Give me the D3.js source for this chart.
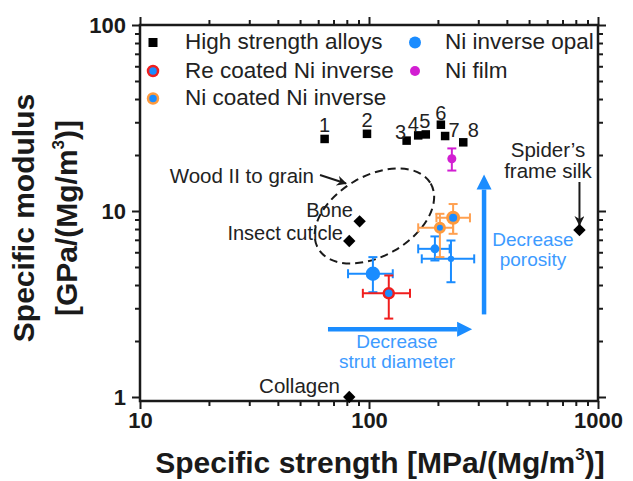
<!DOCTYPE html>
<html>
<head>
<meta charset="utf-8">
<script src="https://cdn.jsdelivr.net/npm/d3@7"></script>
<style>
  html, body { margin: 0; padding: 0; background: #fff; }
  text { font-family: "Liberation Sans", Arial, Helvetica, sans-serif; }
</style>
</head>
<body>
<svg id="chart" width="633" height="481"></svg>
<script>
// ---------------- data ----------------
const xTickValues = [10, 100, 1000];
const yTickValues = [1, 10, 100];
const xTickLabels = ["10", "100", "1000"];
const yTickLabels = ["1", "10", "100"];

const alloyLabels   = ["1", "2", "3", "4", "5", "6", "7", "8"];
const alloyStrength = [64, 98, 146, 164, 177, 206, 215, 258];
const alloyModulus  = [24.4, 26.0, 23.9, 25.5, 25.8, 29.1, 25.3, 23.4];

const bioNames    = ["Bone", "Insect cuticle", "Collagen", "Spider's frame silk"];
const bioStrength = [91, 82, 82, 830];
const bioModulus  = [8.8, 6.9, 1.0, 7.9];

const opalStrength = [104, 194, 228];
const opalModulus  = [4.6, 6.26, 5.53];
const opalXLo = [81, 164, 170], opalXHi = [127, 225, 288];
const opalYLo = [3.66, 5.42, 4.14], opalYHi = [5.65, 7.30, 6.94];

const reStrength = [122];
const reModulus  = [3.61];
const reXLo = [94], reXHi = [151];
const reYLo = [2.64], reYHi = [4.50];

const niCoatStrength = [233, 204];
const niCoatModulus  = [9.19, 8.12];
const niCoatXLo = [197, 164], niCoatXHi = [276, 233];
const niCoatYLo = [7.54, 5.65], niCoatYHi = [10.9, 9.66];

const filmStrength = [230];
const filmModulus  = [19.1];
const filmYLo = [16.5], filmYHi = [21.7];

const legendLabels = ["High strength alloys", "Re coated Ni inverse", "Ni coated Ni inverse", "Ni inverse opal", "Ni film"];

// ---------------- layout / style ----------------
const pLeft = 140, pRight = 598, pTop = 25, pBottom = 401;
const BLUE = "#1a8cff", RED = "#f01e1e", ORANGE = "#ff9a3c", MAG = "#d21ed2", INK = "#1a1a1a";
const TEXTBLUE = "#3d9bff";
const FONT = '"Liberation Sans", Arial, Helvetica, sans-serif';

const svg = d3.select("#chart");

const x = d3.scaleLog().domain([10, 1000]).range([pLeft, pRight]);
const y = d3.scaleLog().domain([0.9517, 100]).range([pBottom, pTop]);

function minors(lo, hi) {
  const out = [];
  for (let d = 0.1; d < 1000; d *= 10)
    for (let k = 2; k <= 9; k++) { const v = +(k * d).toPrecision(6); if (v > lo && v < hi) out.push(v); }
  return out;
}
const xMinor = minors(10, 1000);
const yMinor = minors(0.9517, 100);

// ---------------- axes ----------------
function drawAxis(gen, transform, values, size, labels) {
  const g = svg.append("g").attr("transform", transform)
    .call(gen.tickValues(values).tickSize(size).tickSizeOuter(0)
      .tickFormat(labels ? (d, i) => labels[i] : () => ""));
  g.select(".domain").remove();
  g.selectAll(".tick line").attr("stroke", INK).attr("stroke-width", 2);
  return g;
}
const gb = drawAxis(d3.axisBottom(x), `translate(0,${pBottom})`, xTickValues, 8, xTickLabels);
gb.selectAll(".tick text").attr("font-size", 22).attr("font-weight", "bold").attr("fill", INK)
  .attr("font-family", FONT).attr("dy", "0").attr("y", 27);
drawAxis(d3.axisBottom(x), `translate(0,${pBottom})`, xMinor, 5);
drawAxis(d3.axisTop(x), `translate(0,${pTop})`, xTickValues, 8);
drawAxis(d3.axisTop(x), `translate(0,${pTop})`, xMinor, 5);
const gl = drawAxis(d3.axisLeft(y), `translate(${pLeft},0)`, yTickValues, 8, yTickLabels);
gl.selectAll(".tick text").attr("font-size", 22).attr("font-weight", "bold").attr("fill", INK)
  .attr("font-family", FONT).attr("x", -14).attr("dy", "0.36em");
drawAxis(d3.axisLeft(y), `translate(${pLeft},0)`, yMinor, 5);
drawAxis(d3.axisRight(y), `translate(${pRight},0)`, yTickValues, 8);
drawAxis(d3.axisRight(y), `translate(${pRight},0)`, yMinor, 5);

svg.append("rect").attr("x", pLeft).attr("y", pTop).attr("width", pRight - pLeft).attr("height", pBottom - pTop)
  .attr("fill", "none").attr("stroke", INK).attr("stroke-width", 2.5);

// axis titles
const xt = svg.append("text").attr("x", 380).attr("y", 473).attr("text-anchor", "middle")
  .attr("font-size", 30).attr("font-weight", "bold").attr("fill", INK);
xt.append("tspan").text("Specific strength [MPa/(Mg/m");
xt.append("tspan").text("3").attr("font-size", 17).attr("dy", -13);
xt.append("tspan").text(")]").attr("dy", 13);

const yt = svg.append("g").attr("transform", "translate(34,218) rotate(-90)");
yt.append("text").attr("text-anchor", "middle").attr("font-size", 30).attr("font-weight", "bold")
  .attr("fill", INK).text("Specific modulus");
const yt2 = yt.append("text").attr("y", 43).attr("text-anchor", "middle").attr("font-size", 30)
  .attr("font-weight", "bold").attr("fill", INK);
yt2.append("tspan").text("[GPa/(Mg/m");
yt2.append("tspan").text("3").attr("font-size", 17).attr("dy", -13);
yt2.append("tspan").text(")]").attr("dy", 13);

// ---------------- defs ----------------
const defs = svg.append("defs");
defs.append("marker").attr("id", "ah-black").attr("viewBox", "0 0 10 10").attr("refX", 9).attr("refY", 5)
  .attr("markerWidth", 5).attr("markerHeight", 5).attr("markerUnits", "strokeWidth").attr("orient", "auto")
  .append("path").attr("d", "M0,0 L10,5 L0,10 L3,5 Z").attr("fill", INK);

// ---------------- annotations ----------------
const ell = { cx: 105.6, cy: 9.4 };
svg.append("ellipse").attr("cx", 0).attr("cy", 0).attr("rx", 65).attr("ry", 40)
  .attr("transform", `translate(${x(ell.cx)},${y(ell.cy)}) rotate(-30)`)
  .attr("fill", "none").attr("stroke", INK).attr("stroke-width", 2).attr("stroke-dasharray", "8,5");

function annText(t, px, py, anchor, size, color) {
  return svg.append("text").attr("x", px).attr("y", py).attr("text-anchor", anchor)
    .attr("font-size", size).attr("fill", color || "#222").text(t);
}
annText("Wood II to grain", 314, 183, "end", 20.5);
svg.append("line").attr("x1", 320).attr("y1", 175).attr("x2", 346).attr("y2", 183.5)
  .attr("stroke", INK).attr("stroke-width", 2).attr("marker-end", "url(#ah-black)");

annText("Bone", 353, 217, "end", 20);
annText("Insect cuticle", 343, 240, "end", 20);
annText("Collagen", 340, 393, "end", 20.5);
annText("Spider\u2019s", 548, 157, "middle", 20.5);
annText("frame silk", 548, 178, "middle", 20.5);
svg.append("line").attr("x1", x(bioStrength[3])).attr("y1", 182)
  .attr("x2", x(bioStrength[3])).attr("y2", y(bioModulus[3]) - 5)
  .attr("stroke", INK).attr("stroke-width", 2).attr("marker-end", "url(#ah-black)");

function blueArrow(x1, y1, x2, y2) {
  const ang = Math.atan2(y2 - y1, x2 - x1);
  const hl = 15, hw = 7.5;
  const bx = x2 - hl * Math.cos(ang), by = y2 - hl * Math.sin(ang);
  svg.append("line").attr("x1", x1).attr("y1", y1).attr("x2", bx).attr("y2", by)
    .attr("stroke", BLUE).attr("stroke-width", 4.5);
  const px = -Math.sin(ang) * hw, py = Math.cos(ang) * hw;
  svg.append("path").attr("d", `M${x2},${y2} L${bx + px},${by + py} L${bx - px},${by - py} Z`).attr("fill", BLUE);
}
const hArrow = { x1: 66.2, x2: 282, yv: 2.31 };
const vArrow = { xv: 318, y1: 2.78, y2: 15.7 };
blueArrow(x(hArrow.x1), y(hArrow.yv), x(hArrow.x2), y(hArrow.yv));
blueArrow(x(vArrow.xv), y(vArrow.y1), x(vArrow.xv), y(vArrow.y2));

annText("Decrease", 397, 348, "middle", 19, TEXTBLUE);
annText("strut diameter", 397, 368, "middle", 19, TEXTBLUE);
annText("Decrease", 533, 246, "middle", 19, TEXTBLUE);
annText("porosity", 533, 266, "middle", 19, TEXTBLUE);

// ---------------- marks ----------------
const labelDx = [0, 0, -6, -5, -1, 0, 9, 10];
const labelDy = [-7, -7, -2, -4, -6, -5, 1, -5];
const sq = 8.5;
alloyStrength.forEach((s, i) => {
  svg.append("rect").attr("x", x(s) - sq / 2).attr("y", y(alloyModulus[i]) - sq / 2)
    .attr("width", sq).attr("height", sq).attr("fill", "#000");
  annText(alloyLabels[i], x(s) + labelDx[i], y(alloyModulus[i]) + labelDy[i], "middle", 20);
});

const dia = 6.2;
bioStrength.forEach((s, i) => {
  const cx = x(s), cy = y(bioModulus[i]);
  svg.append("path").attr("d", `M${cx},${cy - dia} L${cx + dia},${cy} L${cx},${cy + dia} L${cx - dia},${cy} Z`)
    .attr("fill", "#000");
});

function errBars(sx, sy, xlo, xhi, ylo, yhi, color, width) {
  const cap = 4.5;
  sx.forEach((s, i) => {
    const cx = x(s), cy = y(sy[i]);
    const g = svg.append("g").attr("stroke", color).attr("stroke-width", width || 2);
    if (xlo) {
      const a = x(xlo[i]), b = x(xhi[i]);
      g.append("line").attr("x1", a).attr("x2", b).attr("y1", cy).attr("y2", cy);
      g.append("line").attr("x1", a).attr("x2", a).attr("y1", cy - cap).attr("y2", cy + cap);
      g.append("line").attr("x1", b).attr("x2", b).attr("y1", cy - cap).attr("y2", cy + cap);
    }
    if (ylo) {
      const a = y(ylo[i]), b = y(yhi[i]);
      g.append("line").attr("x1", cx).attr("x2", cx).attr("y1", a).attr("y2", b);
      g.append("line").attr("x1", cx - cap).attr("x2", cx + cap).attr("y1", a).attr("y2", a);
      g.append("line").attr("x1", cx - cap).attr("x2", cx + cap).attr("y1", b).attr("y2", b);
    }
  });
}
errBars(opalStrength, opalModulus, opalXLo, opalXHi, opalYLo, opalYHi, BLUE);
errBars(niCoatStrength, niCoatModulus, niCoatXLo, niCoatXHi, niCoatYLo, niCoatYHi, "#ffa050");
errBars(reStrength, reModulus, reXLo, reXHi, reYLo, reYHi, RED);
errBars(filmStrength, filmModulus, null, null, filmYLo, filmYHi, MAG);

const opalR = [7.2, 4.5, 3.2];
opalStrength.forEach((s, i) => {
  svg.append("circle").attr("cx", x(s)).attr("cy", y(opalModulus[i])).attr("r", opalR[i]).attr("fill", BLUE);
});
const coatR = [5.5, 4.5];
niCoatStrength.forEach((s, i) => {
  svg.append("circle").attr("cx", x(s)).attr("cy", y(niCoatModulus[i])).attr("r", coatR[i])
    .attr("fill", BLUE).attr("stroke", ORANGE).attr("stroke-width", 3);
});
reStrength.forEach((s, i) => {
  svg.append("circle").attr("cx", x(s)).attr("cy", y(reModulus[i])).attr("r", 5)
    .attr("fill", BLUE).attr("stroke", RED).attr("stroke-width", 2.5);
});
filmStrength.forEach((s, i) => {
  svg.append("circle").attr("cx", x(s)).attr("cy", y(filmModulus[i])).attr("r", 4.5).attr("fill", MAG);
});

// ---------------- legend ----------------
const lg = svg.append("g");
const rowY = [49, 77.5, 105];
const col1 = 153, col1t = 185, col2 = 415, col2t = 445;
lg.append("rect").attr("x", col1 - 4.5).attr("y", rowY[0] - 11).attr("width", 9).attr("height", 9).attr("fill", "#000");
lg.append("circle").attr("cx", col1).attr("cy", rowY[1] - 6.5).attr("r", 5).attr("fill", BLUE)
  .attr("stroke", RED).attr("stroke-width", 2.5);
lg.append("circle").attr("cx", col1).attr("cy", rowY[2] - 6.5).attr("r", 5).attr("fill", BLUE)
  .attr("stroke", ORANGE).attr("stroke-width", 2.5);
lg.append("circle").attr("cx", col2).attr("cy", rowY[0] - 6.5).attr("r", 6).attr("fill", BLUE);
lg.append("circle").attr("cx", col2).attr("cy", rowY[1] - 6.5).attr("r", 5).attr("fill", MAG);
[[col1t, rowY[0], 0], [col1t, rowY[1], 1], [col1t, rowY[2], 2], [col2t, rowY[0], 3], [col2t, rowY[1], 4]]
  .forEach(([tx, ty, i]) => {
    lg.append("text").attr("x", tx).attr("y", ty).attr("font-size", 22.5).attr("fill", "#222").text(legendLabels[i]);
  });
</script>
</body>
</html>
